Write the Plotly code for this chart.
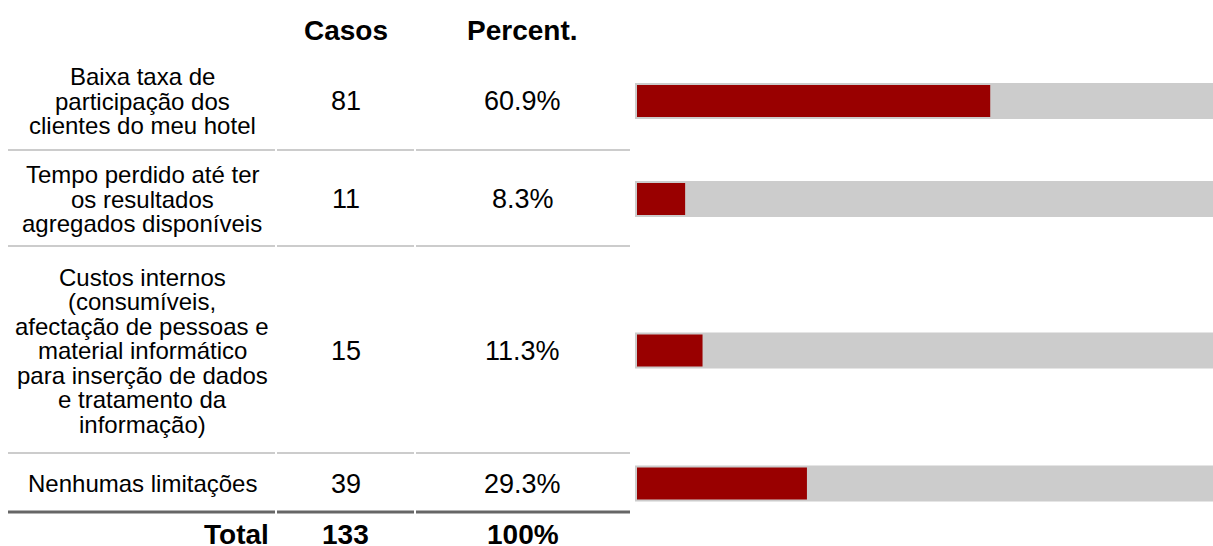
import plotly.graph_objects as go

# ---------------- data ----------------
categories = [
    "Baixa taxa de<br>participação dos<br>clientes do meu hotel",
    "Tempo perdido até ter<br>os resultados<br>agregados disponíveis",
    "Custos internos<br>(consumíveis,<br>afectação de pessoas e<br>material informático<br>para inserção de dados<br>e tratamento da<br>informação)",
    "Nenhumas limitações",
]
casos = [81, 11, 15, 39]
percent = [60.9, 8.3, 11.3, 29.3]
total_casos = 133
total_percent = 100
headers = ["Casos", "Percent."]
total_label = "Total"

# ---------------- layout constants (window pixels) ----------------
W, H = 1213, 546
FONT = "Liberation Sans, Arial, Helvetica, sans-serif"
TABLE_TOP = 50
row_heights = [100, 96, 207, 59]
LINE_STEP = 24.5
col_bounds = [8, 276, 415, 630]
col_centers = [(col_bounds[i] + col_bounds[i + 1]) / 2 for i in range(3)]
BAR_ZERO = 637          # pixel where 0 % sits
PX_PER_UNIT = 5.8       # pixels per percent point
BAR_LEFT = 635          # left edge of the grey track

row_tops = []
acc = TABLE_TOP
for h in row_heights:
    row_tops.append(acc)
    acc += h
row_bottoms = [t + h for t, h in zip(row_tops, row_heights)]
row_centers = [t + h / 2 + 1 for t, h in zip(row_tops, row_heights)]
total_center = row_bottoms[-1] + 22


def px(x):
    return x / W


fig = go.Figure()

# background (100%) track bars
fig.add_trace(go.Bar(
    orientation="h", y=row_centers, x=[total_percent] * len(percent), width=32,
    marker=dict(color="#cccccc", line=dict(color="#cccccc", width=4)),
    hoverinfo="skip", showlegend=False,
))
# value bars
fig.add_trace(go.Bar(
    orientation="h", y=row_centers, x=percent, width=32,
    marker=dict(color="#990000", line=dict(width=0)),
    hoverinfo="skip", showlegend=False,
))

annotations = []

# headers
for i, htxt in enumerate(headers):
    annotations.append(dict(
        x=px(col_centers[i + 1]), xref="paper", y=30, yref="y",
        text=f"<b>{htxt}</b>", showarrow=False, xanchor="center", yanchor="middle",
        font=dict(family=FONT, size=28, color="#000000"),
    ))

for r, (cat, c, p) in enumerate(zip(categories, casos, percent)):
    lines = cat.split("<br>")
    n = len(lines)
    for k, ln in enumerate(lines):
        yy = row_centers[r] + (k - (n - 1) / 2) * LINE_STEP
        annotations.append(dict(
            x=px(col_centers[0]), xref="paper", y=yy, yref="y", text=ln,
            showarrow=False, xanchor="center", yanchor="middle",
            font=dict(family=FONT, size=24, color="#000000"),
        ))
    annotations.append(dict(
        x=px(col_centers[1]), xref="paper", y=row_centers[r], yref="y", text=f"{c}",
        showarrow=False, xanchor="center", yanchor="middle",
        font=dict(family=FONT, size=27, color="#000000"),
    ))
    annotations.append(dict(
        x=px(col_centers[2]), xref="paper", y=row_centers[r], yref="y", text=f"{p:.1f}%",
        showarrow=False, xanchor="center", yanchor="middle",
        font=dict(family=FONT, size=27, color="#000000"),
    ))

# total row
annotations.append(dict(
    x=px(col_bounds[1] - 5), xref="paper", y=total_center, yref="y",
    text=f"<b>{total_label}</b>", showarrow=False, xanchor="right", yanchor="middle",
    font=dict(family=FONT, size=28, color="#000000"),
))
annotations.append(dict(
    x=px(col_centers[1]), xref="paper", y=total_center, yref="y",
    text=f"<b>{total_casos}</b>", showarrow=False, xanchor="center", yanchor="middle",
    font=dict(family=FONT, size=28, color="#000000"),
))
annotations.append(dict(
    x=px(col_centers[2]), xref="paper", y=total_center, yref="y",
    text=f"<b>{total_percent}%</b>", showarrow=False, xanchor="center", yanchor="middle",
    font=dict(family=FONT, size=28, color="#000000"),
))

# separator lines
shapes = []
for r, yb in enumerate(row_bottoms):
    last = r == len(row_bottoms) - 1
    for i in range(3):
        x0 = col_bounds[i] + (1 if i > 0 else 0)
        x1 = col_bounds[i + 1] - (1 if i < 2 else 0)
        shapes.append(dict(
            type="line", xref="paper", yref="y", x0=px(x0), x1=px(x1), y0=yb, y1=yb,
            line=dict(color="#666666" if last else "#cccccc", width=3 if last else 2),
        ))

x_lo = (BAR_LEFT - BAR_ZERO) / PX_PER_UNIT
x_hi = (W - BAR_ZERO) / PX_PER_UNIT

fig.update_layout(
    width=W, height=H,
    margin=dict(l=0, r=0, t=0, b=0),
    paper_bgcolor="white", plot_bgcolor="white",
    barmode="overlay",
    xaxis=dict(domain=[px(BAR_LEFT), 1], range=[x_lo, x_hi], visible=False, fixedrange=True),
    yaxis=dict(range=[H, 0], visible=False, fixedrange=True),
    annotations=annotations,
    shapes=shapes,
    showlegend=False,
)

fig.write_html(
    "out.html",
    config={"displayModeBar": False, "staticPlot": True},
    post_script="document.body.style.margin='0px';",
)
